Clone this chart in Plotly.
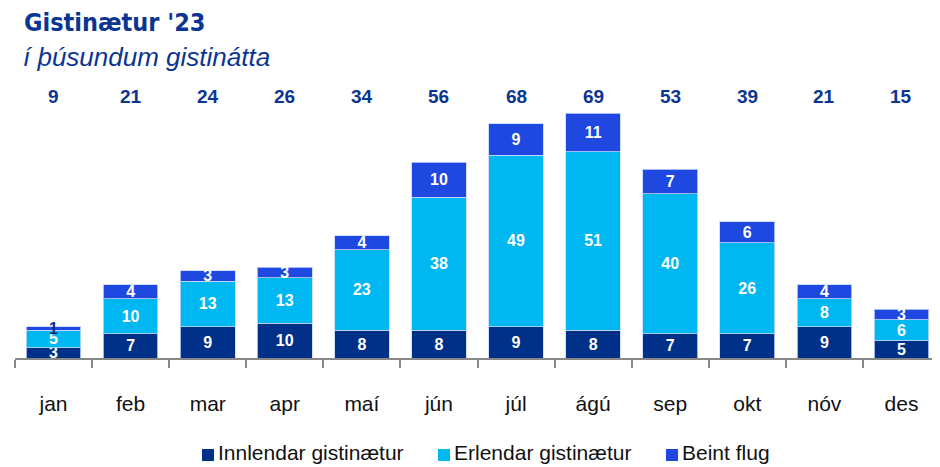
import plotly.graph_objects as go

months = ["jan", "feb", "mar", "apr", "maí", "jún", "júl", "ágú", "sep", "okt", "nóv", "des"]
innlendar = [3, 7, 9, 10, 8, 8, 9, 8, 7, 7, 9, 5]
erlendar = [5, 10, 13, 13, 23, 38, 49, 51, 40, 26, 8, 6]
beint = [1, 4, 3, 3, 4, 10, 9, 11, 7, 6, 4, 3]
totals = [9, 21, 24, 26, 34, 56, 68, 69, 53, 39, 21, 15]
series_names = ["Innlendar gistinætur", "Erlendar gistinætur", "Beint flug"]

NAVY = "#003087"
CYAN = "#00B8F1"
BLUE = "#1F48E0"
TITLE = "#0B3592"
colors = [NAVY, CYAN, BLUE]

# figure geometry (the page body adds an 8px offset)
W, H = 932, 459
L, R, T, B = 7, 0, 102, 109
PL, PR, PT, PB = L, W - R, T, H - B


def px(fx):
    return (fx - PL) / (PR - PL)


def py(fy):
    return (PB - fy) / (PB - PT)


fig = go.Figure()
for name, vals, col in zip(series_names, [innlendar, erlendar, beint], colors):
    tcols = ["white"] * len(vals)
    if name == "Beint flug":
        tcols[0] = NAVY
    fig.add_trace(go.Bar(
        x=months, y=vals, name=name,
        marker=dict(color=col, line=dict(color="rgba(200,215,255,0.8)", width=1)),
        text=[str(v) for v in vals],
        textposition="inside", insidetextanchor="middle",
        textangle=0, constraintext="none",
        textfont=dict(family="Liberation Sans, Arial", size=16, color=tcols, weight="bold"),
        cliponaxis=False,
    ))

for m, t in zip(months, totals):
    fig.add_annotation(x=m, y=py(89), xref="x", yref="paper", text=f"<b>{t}</b>",
                       showarrow=False, font=dict(family="Liberation Sans, Arial", size=19, color=TITLE),
                       yanchor="middle")

fig.add_annotation(x=px(14), y=py(14), xref="paper", yref="paper", text="<b>Gistinætur '23</b>",
                   showarrow=False, xanchor="left", yanchor="middle",
                   font=dict(family="DejaVu Sans Condensed, DejaVu Sans", size=25, color=TITLE))
fig.add_annotation(x=px(13), y=py(49), xref="paper", yref="paper", text="<i>í þúsundum gistinátta</i>",
                   showarrow=False, xanchor="left", yanchor="middle",
                   font=dict(family="Liberation Sans, Arial", size=26, color=TITLE))

# legend drawn as square swatches + text entries
leg_x = [194, 430, 658]
for x0, name, col in zip(leg_x, series_names, colors):
    fig.add_shape(type="rect", xref="paper", yref="paper",
                  x0=px(x0), x1=px(x0 + 12), y0=py(453), y1=py(441),
                  fillcolor=col, line=dict(width=0))
    fig.add_annotation(x=px(x0 + 14), y=py(444), xref="paper", yref="paper",
                       text=name, showarrow=False, xanchor="left", yanchor="middle",
                       font=dict(family="Liberation Sans, Arial", size=21, color="#111"))

fig.update_layout(
    barmode="stack",
    width=W, height=H,
    margin=dict(l=L, r=R, t=T, b=B),
    plot_bgcolor="white", paper_bgcolor="white",
    bargap=0.29,
    showlegend=False,
    xaxis=dict(showline=True, linecolor="#888", linewidth=1.5, ticks="outside", tickson="boundaries",
               ticklen=8, tickcolor="#888", tickwidth=1.5, ticklabelstandoff=26,
               tickfont=dict(family="Liberation Sans, Arial", size=21, color="#111")),
    yaxis=dict(visible=False, range=[0, 70.9]),
    font=dict(family="Liberation Sans, Arial"),
)

fig.write_html("out.html")
